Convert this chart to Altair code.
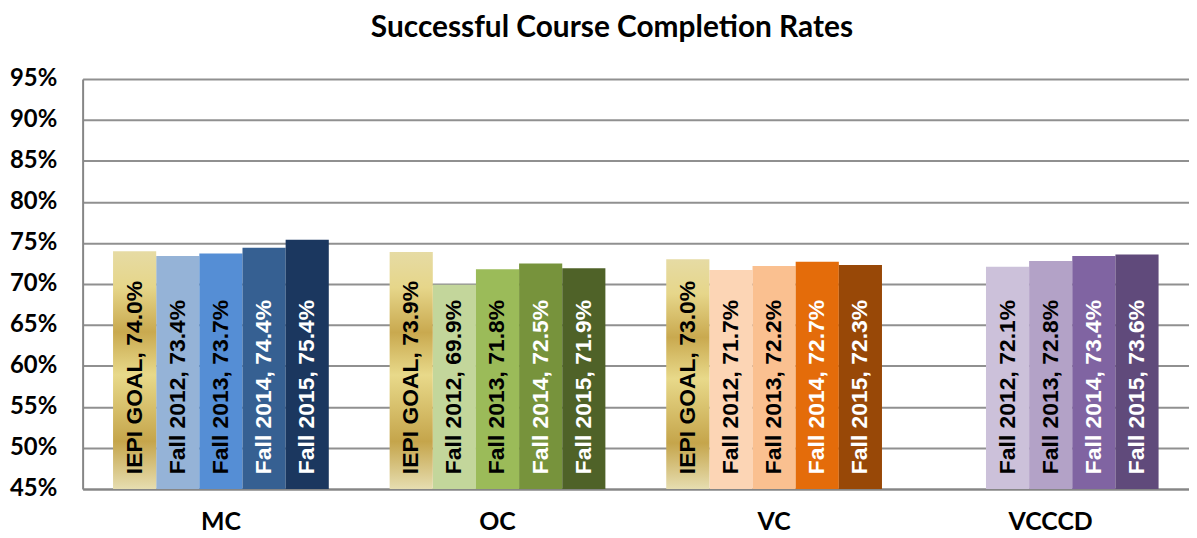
import altair as alt
import pandas as pd

colleges = ["MC", "OC", "VC", "VCCCD"]
series = ["IEPI GOAL", "Fall 2012", "Fall 2013", "Fall 2014", "Fall 2015"]

mc_values = [74.0, 73.4, 73.7, 74.4, 75.4]
oc_values = [73.9, 69.9, 71.8, 72.5, 71.9]
vc_values = [73.0, 71.7, 72.2, 72.7, 72.3]
vcccd_values = [None, 72.1, 72.8, 73.4, 73.6]

palette = {
    "MC": ["#95b3d7", "#558ed5", "#366092", "#1b375f"],
    "OC": ["#c3d69b", "#9bbb59", "#77933c", "#4f6228"],
    "VC": ["#fcd5b5", "#fac090", "#e46c0a", "#984807"],
    "VCCCD": ["#ccc1da", "#b3a2c7", "#8064a2", "#604a7b"],
}
white_text_series = ["Fall 2014", "Fall 2015"]

rows = []
for college, vals in zip(colleges, [mc_values, oc_values, vc_values, vcccd_values]):
    for s, v in zip(series, vals):
        if v is None:
            continue
        rows.append({
            "college": college,
            "series": s,
            "value": v,
            "key": college + "|" + s,
            "label": f"{s}, {v:.1f}%",
            "textcolor": "white" if s in white_text_series else "black",
        })
df = pd.DataFrame(rows)

color_domain = []
color_range = []
for c in colleges:
    for s, col in zip(series[1:], palette[c]):
        color_domain.append(c + "|" + s)
        color_range.append(col)

x_enc = alt.X("college:N", sort=colleges,
              scale=alt.Scale(paddingInner=0.22, paddingOuter=0.11),
              axis=alt.Axis(title=None, labelAngle=0, labelFont="Lato", labelFontSize=25,
                            labelFontWeight="bold", labelColor="black", labelPadding=21,
                            ticks=False, domainColor="#868686", domainWidth=2,
                            minExtent=42, maxExtent=42))
xo_enc = alt.XOffset("series:N", sort=series,
                     scale=alt.Scale(domain=series, paddingInner=0, paddingOuter=0))
y_enc = alt.Y("value:Q", scale=alt.Scale(domain=[45, 95], nice=False, zero=False),
              axis=alt.Axis(title=None, values=list(range(45, 100, 5)),
                            labelExpr="datum.value + '%'", labelFont="Lato", labelFontSize=24,
                            labelFontWeight="bold", labelColor="black", labelPadding=26,
                            ticks=False, grid=True, gridColor="#909090", gridWidth=2,
                            domainColor="#868686", domainWidth=2,
                            minExtent=75, maxExtent=75))

base = alt.Chart(df)

fall_bars = base.transform_filter(alt.datum.series != "IEPI GOAL").mark_bar().encode(
    x=x_enc, xOffset=xo_enc, y=y_enc, y2=alt.datum(45),
    color=alt.Color("key:N", scale=alt.Scale(domain=color_domain, range=color_range), legend=None),
)

gold = alt.Gradient(
    gradient="linear", x1=0, x2=0, y1=0, y2=1,
    stops=[
        alt.GradientStop(color="#e6dba4", offset=0),
        alt.GradientStop(color="#e6d68a", offset=0.15),
        alt.GradientStop(color="#c9a94f", offset=0.34),
        alt.GradientStop(color="#e8d98a", offset=0.52),
        alt.GradientStop(color="#c5a54b", offset=0.8),
        alt.GradientStop(color="#e6ddb0", offset=1),
    ],
)
goal_bars = base.transform_filter(alt.datum.series == "IEPI GOAL").mark_bar(color=gold).encode(
    x=x_enc, xOffset=xo_enc, y=y_enc, y2=alt.datum(45),
)

labels = base.mark_text(angle=270, align="left", baseline="middle", font="Liberation Sans",
                        fontSize=23, fontWeight="bold").encode(
    x=x_enc, xOffset=xo_enc,
    y=alt.datum(46.8),
    text="label:N",
    color=alt.Color("textcolor:N", scale=None),
)

chart = alt.layer(fall_bars, goal_bars, labels).properties(
    width=1112, height=412,
    padding={"left": 0, "top": 4, "right": 0, "bottom": 0},
    title=alt.TitleParams("Successful Course Completion Rates", font="Lato", fontSize=30,
                          fontWeight="bold", color="black", anchor="middle", offset=24, dx=-24),
).configure_view(stroke=None).resolve_scale(color="independent")

chart.save("out.html", embed_options={"renderer": "svg", "actions": False})
